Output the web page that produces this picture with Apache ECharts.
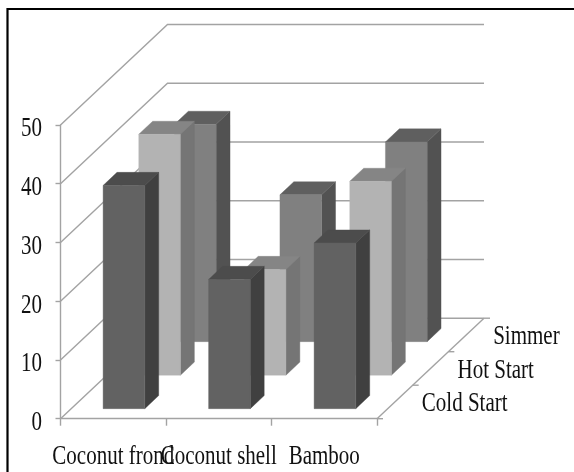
<!DOCTYPE html>
<html><head><meta charset="utf-8">
<script src="https://cdn.jsdelivr.net/npm/echarts@6/dist/echarts.min.js"></script>
<style>html,body{margin:0;padding:0;background:#fff}#c{width:574px;height:472px;filter:blur(0.45px)}</style>
</head><body><div id="c"></div>
<script>
const categories = ['Coconut frond', 'Coconut shell', 'Bamboo'];
const rowNames = ['Cold Start', 'Hot Start', 'Simmer'];
const coldStart = [38, 22, 28.2];
const hotStart = [41, 18, 33];
const simmer = [37, 25, 34];
const yTicks = [0, 10, 20, 30, 40, 50];

const DX = 107, DY = 100.5;          // oblique projection of the full floor depth
const ROW_GAP = 0.1, BAR_DEPTH = 0.13, ROW_STEP = 1 / 3, BAR_SHARE = 0.395;
const GRID = '#a3a3a3', FONT = '"Liberation Serif"', TEXT = '#111', TEXT_STRETCH = 1.25;

const chart = echarts.init(document.getElementById('c'), null, {renderer: 'canvas'});

const proj = (p, t) => [p[0] + DX * t, p[1] - DY * t];
const lineShape = (pts, w) => ({type: 'polyline', silent: true, shape: {points: pts},
  style: {stroke: GRID, lineWidth: w || 1.4, fill: 'none'}});
const label = (text, x, y, align) => ({type: 'text', silent: true, x, y, scaleY: TEXT_STRETCH,
  style: {text, x: 0, y: 0, align, verticalAlign: 'middle', font: '21px ' + FONT, fill: TEXT}});

function barSeries(name, values, row, front, top, side) {
  return {
    type: 'custom', name, silent: true,
    data: values.map((v, i) => [i, v]),
    renderItem(params, api) {
      const i = api.value(0), v = api.value(1);
      const w = api.size([1, 0])[0] * BAR_SHARE;
      const b = api.coord([i, 0]), t = api.coord([i, v]);
      const t0 = row * ROW_STEP + ROW_GAP, t1 = t0 + BAR_DEPTH;
      const L = x => [x[0] - w / 2, x[1]], R = x => [x[0] + w / 2, x[1]];
      const poly = (pts, c) => ({type: 'polygon', silent: true, shape: {points: pts},
        style: {fill: c, stroke: c, lineWidth: 0.4}});
      return {type: 'group', children: [
        poly([proj(R(b), t0), proj(R(b), t1), proj(R(t), t1), proj(R(t), t0)], side),
        poly([proj(L(t), t0), proj(R(t), t0), proj(R(t), t1), proj(L(t), t1)], top),
        poly([proj(L(b), t0), proj(R(b), t0), proj(R(t), t0), proj(L(t), t0)], front)
      ]};
    }
  };
}

const option = {
  animation: false,
  backgroundColor: '#fff',
  tooltip: {show: false},
  grid: {left: 60.5, width: 316.5, top: 125, height: 293.7, containLabel: false},
  graphic: [{type: 'polyline', silent: true, shape: {points: [[7.5, 472], [7.5, 9], [574, 9]]},
    style: {stroke: '#000', lineWidth: 2.2, fill: 'none'}}],
  xAxis: {
    type: 'category', data: categories, boundaryGap: true,
    axisLine: {lineStyle: {color: GRID, width: 1.4}},
    axisTick: {show: true, length: 7, lineStyle: {color: GRID, width: 1.4}},
    axisLabel: {show: false}
  },
  yAxis: {
    type: 'value', min: 0, max: 50, interval: 10,
    splitLine: {show: false},
    axisLine: {show: true, lineStyle: {color: GRID, width: 1.4}},
    axisTick: {show: true, length: 5, lineStyle: {color: GRID, width: 1.4}},
    axisLabel: {show: false}
  },
  series: [
    {type: 'custom', name: 'walls', silent: true, data: yTicks.map(v => [v]),
      encode: {x: -1, y: 0},
      renderItem(params, api) {
        const v = api.value(0), bw = api.size([1, 0])[0];
        const a = api.coord([0, v]), e = api.coord([categories.length - 1, v]);
        const fl = [a[0] - bw / 2, a[1]], fr = [e[0] + bw / 2, e[1]];
        return {type: 'group', children: [
          lineShape([fl, proj(fl, 1), proj(fr, 1)]),
          label(String(v), fl[0] - 18.5, fl[1] + 4.5, 'right')
        ]};
      }},
    {type: 'custom', name: 'categoryLabels', silent: true, data: categories.map((n, i) => [i, 0]),
      renderItem(params, api) {
        const p = api.coord([api.value(0), 0]);
        return label(categories[params.dataIndex], p[0], p[1] + 38, 'center');
      }},
    {type: 'custom', name: 'floor', silent: true, data: rowNames.map((n, i) => [i, n]),
      encode: {x: -1, y: -1},
      renderItem(params, api) {
        const r = params.dataIndex, bw = api.size([1, 0])[0];
        const e = api.coord([categories.length - 1, 0]);
        const fr = [e[0] + bw / 2, e[1]];
        const kids = [];
        if (r === 0) kids.push(lineShape([fr, proj(fr, 1)]));
        const tk = proj(fr, r * ROW_STEP);
        kids.push(lineShape([tk, [tk[0] + 6, tk[1]]]));
        if (r === 2) { const end = proj(fr, 1); kids.push(lineShape([end, [end[0] + 6, end[1]]])); }
        const lab = proj(fr, (r + 0.5) * ROW_STEP);
        kids.push(label(rowNames[r], lab[0] + 27, lab[1] + 2.5, 'left'));
        return {type: 'group', children: kids};
      }},
    barSeries('Simmer', simmer, 2, '#808080', '#5f5f5f', '#525252'),
    barSeries('Hot Start', hotStart, 1, '#b3b3b3', '#858585', '#757575'),
    barSeries('Cold Start', coldStart, 0, '#626262', '#4c4c4c', '#404040')
  ]
};
chart.setOption(option);
</script></body></html>
